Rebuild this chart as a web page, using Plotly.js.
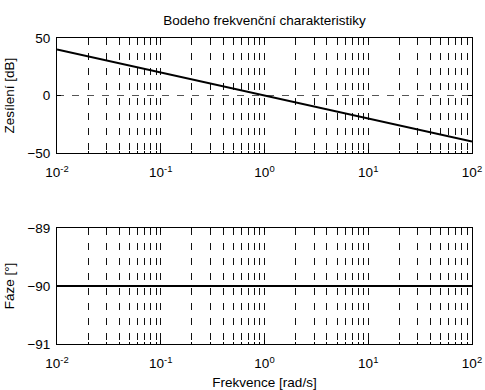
<!DOCTYPE html>
<html><head><meta charset="utf-8">
<script src="https://cdn.plot.ly/plotly-3.0.1.min.js"></script>
<style>body{margin:0;background:#fff}#c{width:485px;height:390px}</style>
</head><body><div id="c"></div>
<script>
const freq = [0.01, 0.1, 1, 10, 100];
const gainDb = [40, 20, 0, -20, -40];
const phaseDeg = [-90, -90, -90, -90, -90];
const xTickVals = [0.01, 0.1, 1, 10, 100];
const xTickText = ['10<sup>-2</sup>', '10<sup>-1</sup>', '10<sup>0</sup>', '10<sup>1</sup>', '10<sup>2</sup>'];
const gainTicks = [-50, 0, 50];
const phaseTicks = [-91, -90, -89];

const F = 'Liberation Sans, Arial, sans-serif';
const FS = 13.5;
const dashG = '7px,8px';
function xax(anchor, showTitle) {
  const a = {
    type: 'log', range: [-2, 2], anchor: anchor,
    tickvals: xTickVals, ticktext: xTickText,
    ticks: 'inside', ticklen: 4, tickcolor: '#000',
    showline: true, linecolor: '#000', linewidth: 1, mirror: 'ticks',
    showgrid: true, gridcolor: '#111', griddash: dashG, gridwidth: 1,
    minor: {dtick: 'D1', showgrid: true, gridcolor: '#111', griddash: dashG, gridwidth: 1, ticks: 'inside', ticklen: 2, tickcolor: '#000'},
    zeroline: false,
    tickfont: {family: F, size: FS, color: '#000'},
    ticklabelstandoff: 7
  };
  if (showTitle) a.title = {text: 'Frekvence [rad/s]', font: {family: F, size: FS, color: '#000'}, standoff: 10};
  return a;
}
function yax(domain, anchor, ticks, rng, title) {
  return {
    domain: domain, anchor: anchor, range: rng,
    tickvals: ticks, ticks: 'inside', ticklen: 4, tickcolor: '#000',
    showline: true, linecolor: '#000', linewidth: 1, mirror: 'ticks',
    showgrid: true, gridcolor: '#555', griddash: dashG, gridwidth: 1,
    zeroline: false,
    tickfont: {family: F, size: FS, color: '#000'},
    ticklabelstandoff: 3,
    title: {text: title, font: {family: F, size: FS, color: '#000'}, standoff: 9}
  };
}
const data = [
  {x: freq, y: gainDb, xaxis: 'x', yaxis: 'y', mode: 'lines', line: {color: '#000', width: 2}},
  {x: freq, y: phaseDeg, xaxis: 'x2', yaxis: 'y2', mode: 'lines', line: {color: '#000', width: 2}}
];
const layout = {
  width: 485, height: 390,
  margin: {l: 57, r: 13, t: 38, b: 46},
  paper_bgcolor: '#fff', plot_bgcolor: '#fff',
  showlegend: false,
  title: {text: 'Bodeho frekvenční charakteristiky', font: {family: F, size: FS, color: '#000'}, x: 0.5, xanchor: 'center', y: 0.948, yanchor: 'middle', xref: 'paper'},
  xaxis: xax('y', false),
  yaxis: yax([0.624, 1], 'x', gainTicks, [-50, 50], 'Zesílení [dB]'),
  xaxis2: xax('y2', true),
  yaxis2: yax([0, 0.379], 'x2', phaseTicks, [-91, -89], 'Fáze [°]')
};
Plotly.newPlot('c', data, layout, {staticPlot: true});
</script></body></html>
